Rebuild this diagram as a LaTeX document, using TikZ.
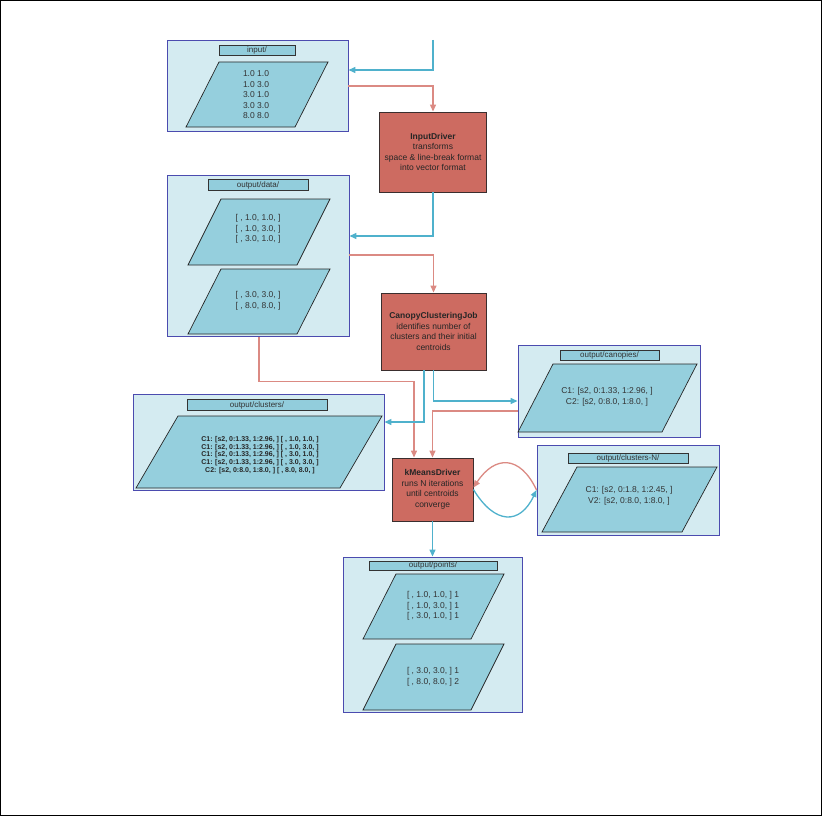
\documentclass[tikz,border=0pt]{standalone}
\usepackage{fontspec}
\setmainfont{Liberation Sans}
\usetikzlibrary{arrows.meta}
\definecolor{boxfill}{HTML}{D4EBF1}
\definecolor{boxdraw}{HTML}{4B4BAF}
\definecolor{titlefill}{HTML}{92CDDC}
\definecolor{parafill}{HTML}{95CFDD}
\definecolor{drvfill}{HTML}{CD6B61}
\definecolor{drvdraw}{HTML}{3A2E2E}
\definecolor{redline}{HTML}{DB8A83}
\definecolor{blueline}{HTML}{4FB1CC}
\definecolor{txt}{HTML}{333333}
\newcommand\plgram[5]{\draw[parastyle] (#1,#2) -- ++(#4,0) -- ++(#3,-#5) -- ++(-#4,0) -- cycle;}
\begin{document}
\begin{tikzpicture}[x=1pt,y=-1pt,
  container/.style={draw=boxdraw, fill=boxfill, line width=0.9pt, inner sep=0pt},
  titlebar/.style={draw=black!80, fill=titlefill, line width=0.7pt, inner sep=0pt,
    font=\fontsize{8}{9}\selectfont, text=txt},
  parastyle/.style={draw=black!85, fill=parafill, line width=0.7pt},
  paratext/.style={align=center, inner sep=0pt, text=txt, font=\fontsize{8.5}{10.5}\selectfont},
  cltext/.style={align=center, inner sep=0pt, text=black!85, font=\bfseries\fontsize{7}{7.6}\selectfont},
  driver/.style={draw=drvdraw, fill=drvfill, line width=0.9pt, inner sep=0pt, align=center,
    text=black!85, font=\fontsize{8.5}{10.5}\selectfont},
  bluearrow/.style={draw=blueline, line width=1.3pt, -{Triangle[length=7pt,width=6pt]}},
  redarrow/.style={draw=redline, line width=1.3pt, -{Triangle[length=7pt,width=6pt]}},
  ]
\useasboundingbox (0,0) rectangle (822,816);
\draw[black, line width=1pt] (0.5,0.5) rectangle (821.5,815.5);

% containers
\node[container, minimum width=181pt, minimum height=91pt] (inbox) at (257.5,85.5) {};
\node[container, minimum width=182pt, minimum height=161pt] (databox) at (258,256) {};
\node[container, minimum width=251pt, minimum height=96pt] (clbox) at (258.5,442) {};
\node[container, minimum width=182pt, minimum height=92pt] (canbox) at (609,391) {};
\node[container, minimum width=182pt, minimum height=90pt] (cnbox) at (628,490) {};
\node[container, minimum width=179pt, minimum height=155pt] (ptbox) at (432.5,634.5) {};

% titles
\node[titlebar, minimum width=76pt, minimum height=10pt] (tin) at (257,50) {input/};
\node[titlebar, minimum width=100pt, minimum height=11pt] (tdata) at (258,185) {output/data/};
\node[titlebar, minimum width=140pt, minimum height=11pt] (tcl) at (257,405) {output/clusters/};
\node[titlebar, minimum width=99pt, minimum height=10pt] (tcan) at (609.5,355) {output/canopies/};
\node[titlebar, minimum width=120pt, minimum height=10pt] (tcn) at (628,458) {output/clusters-N/};
\node[titlebar, minimum width=128pt, minimum height=9pt] (tpt) at (433,565.5) {output/points/};

% parallelograms
\plgram{186}{127}{33}{109}{65}
\plgram{188}{265}{33}{109}{66}
\plgram{188}{334}{33}{109}{65}
\plgram{136}{488}{42}{204}{72}
\plgram{518}{432}{35}{144}{68}
\plgram{542}{532}{35}{140}{65}
\plgram{363}{639}{33}{108}{65}
\plgram{363}{710}{33}{108}{66}

% parallelogram texts
\node[paratext] (xin) at (256,95) {1.0 1.0\\1.0 3.0\\3.0 1.0\\3.0 3.0\\8.0 8.0};
\node[paratext] (xd1) at (258,229) {{[} , 1.0, 1.0, ]\\{[} , 1.0, 3.0, ]\\{[} , 3.0, 1.0, ]};
\node[paratext] (xd2) at (258,301) {{[} , 3.0, 3.0, ]\\{[} , 8.0, 8.0, ]};
\node[cltext] (xcl) at (260,455) {C1: [s2, 0:1.33, 1:2.96, ] [ , 1.0, 1.0, ]\\C1: [s2, 0:1.33, 1:2.96, ] [ , 1.0, 3.0, ]\\C1: [s2, 0:1.33, 1:2.96, ] [ , 3.0, 1.0, ]\\C1: [s2, 0:1.33, 1:2.96, ] [ , 3.0, 3.0, ]\\C2: [s2, 0:8.0, 1:8.0, ] [ , 8.0, 8.0, ]};
\node[paratext] (xcan) at (607,397) {C1: [s2, 0:1.33, 1:2.96, ]\\C2: [s2, 0:8.0, 1:8.0, ]};
\node[paratext] (xcn) at (629,496) {C1: [s2, 0:1.8, 1:2.45, ]\\V2: [s2, 0:8.0, 1:8.0, ]};
\node[paratext] (xp1) at (433,606) {{[} , 1.0, 1.0, ] 1\\{[} , 1.0, 3.0, ] 1\\{[} , 3.0, 1.0, ] 1};
\node[paratext] (xp2) at (433,677) {{[} , 3.0, 3.0, ] 1\\{[} , 8.0, 8.0, ] 2};

% drivers
\node[driver, minimum width=107pt, minimum height=80pt] (idrv) at (433,152)
  {\textbf{InputDriver}\\transforms\\space \& line-break format\\into vector format};
\node[driver, minimum width=105pt, minimum height=77pt] (canopy) at (433.5,331.5)
  {\textbf{CanopyClusteringJob}\\identifies number of\\clusters and their initial\\centroids};
\node[driver, minimum width=81pt, minimum height=63pt] (kmeans) at (432.5,489.5)
  {\textbf{kMeansDriver}\\runs N iterations\\until centroids\\converge};

% connectors
\coordinate (top) at (433,40);
\draw[bluearrow] (top) |- ([yshift=15.5pt]inbox.east);
\draw[redarrow] ([yshift=-0.5pt]inbox.east) -| (idrv.north);
\draw[bluearrow] (idrv.south) |- ([yshift=20pt]databox.east);
\draw[redarrow] ([yshift=1pt]databox.east) -| (canopy.north);
\draw[redarrow] ([xshift=1pt]databox.south) -- ++(0,44.5) -| ([xshift=-18.5pt]kmeans.north);
\draw[bluearrow] ([xshift=-9.5pt]canopy.south) |- ([yshift=20pt]clbox.east);
\draw[bluearrow] (canopy.south) |- ([yshift=-10pt]canbox.west);
\draw[redarrow] ([yshift=-20pt]canbox.west) -| (kmeans.north);
\draw[redarrow] (cnbox.west) .. controls (520,455) and (495,455) .. ([yshift=2pt]kmeans.east);
\draw[bluearrow] (kmeans.east) .. controls (495,525) and (520,525) .. (cnbox.west);
\draw[bluearrow] (kmeans.south) -- (ptbox.north);
\end{tikzpicture}
\end{document}
